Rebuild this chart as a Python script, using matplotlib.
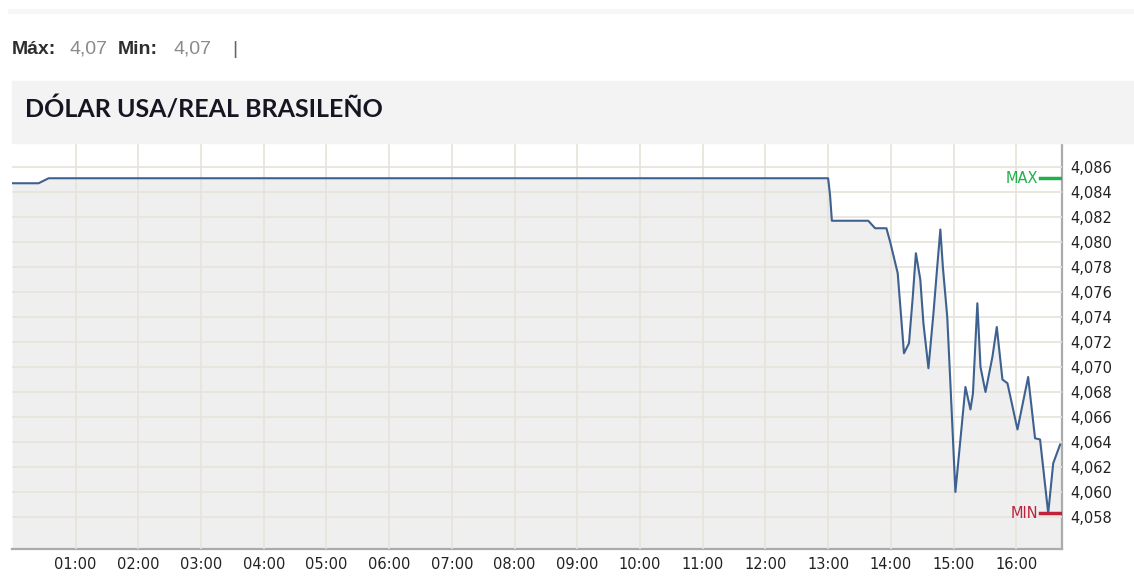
import matplotlib.pyplot as plt
from matplotlib.patches import Rectangle
from matplotlib.ticker import FuncFormatter

# hora del día (decimal) y cotización
horas = [0.0, 0.41, 0.57, 13.0, 13.03, 13.06, 13.64, 13.75, 13.93, 13.99,
         14.11, 14.16, 14.21, 14.29, 14.35, 14.40, 14.47, 14.52, 14.60, 14.68,
         14.74, 14.79, 14.83, 14.90, 14.95, 15.03, 15.11, 15.19, 15.27, 15.31,
         15.38, 15.43, 15.51, 15.62, 15.69, 15.78, 15.86, 16.02, 16.19, 16.30,
         16.38, 16.51, 16.59, 16.70]
valores = [4.0847, 4.0847, 4.0851, 4.0851, 4.0838, 4.0817, 4.0817, 4.0811, 4.0811, 4.0800,
           4.0775, 4.0743, 4.0711, 4.0719, 4.0756, 4.0791, 4.0770, 4.0735, 4.0699, 4.0743,
           4.0780, 4.0810, 4.0780, 4.0740, 4.0687, 4.0600, 4.0642, 4.0684, 4.0666, 4.0679,
           4.0751, 4.0700, 4.0680, 4.0708, 4.0732, 4.0690, 4.0687, 4.0650, 4.0692, 4.0643,
           4.0642, 4.0583, 4.0623, 4.0638]

xticks = list(range(1, 17))
xlabels = [f"{h:02d}:00" for h in xticks]
yticks = [4.058 + 0.002 * i for i in range(15)]

titulo = "DÓLAR USA/REAL BRASILEÑO"

W, H = 1134, 577
fig = plt.figure(figsize=(W / 100, H / 100), dpi=100)

# banda superior tenue y banda del título
fig.patches.append(Rectangle((8 / W, 1 - 13 / H), 1, 4 / H, transform=fig.transFigure,
                             color="#f7f7f7", zorder=0))
fig.patches.append(Rectangle((12 / W, 1 - 143 / H), 1, 62 / H, transform=fig.transFigure,
                             color="#f3f3f3", zorder=0))
fig.text(25 / W, 1 - 110 / H, titulo, fontsize=18, fontweight="bold", family="Lato",
         color="#161622", va="center")

# cabecera Máx / Min
y_cab = 1 - 49 / H
fig.text(12 / W, y_cab, "Máx:", fontsize=14, fontweight="bold", family="Liberation Sans",
         color="#2e2e2e", va="center")
fig.text(69 / W, y_cab, "4,07", fontsize=14, family="Liberation Sans", color="#8a8a8a", va="center")
fig.text(118 / W, y_cab, "Min:", fontsize=14, fontweight="bold", family="Liberation Sans",
         color="#2e2e2e", va="center")
fig.text(173 / W, y_cab, "4,07", fontsize=14, family="Liberation Sans", color="#8a8a8a", va="center")
fig.text(232 / W, y_cab, "|", fontsize=14, family="Liberation Sans", color="#666666", va="center")

ax = fig.add_axes([12 / W, 1 - 549 / H, (1062 - 12) / W, (549 - 143) / H])
ymin, ymax = 4.05544, 4.08792
ax.set_xlim(-0.014, 16.73)
ax.set_ylim(ymin, ymax)

ax.fill_between(horas, valores, ymin, color="#efefef", zorder=1)
ax.plot(horas, valores, color="#3e6190", lw=1.5, zorder=3)

ax.set_xticks(xticks)
ax.set_xticklabels(xlabels)
ax.set_yticks(yticks)
ax.yaxis.set_major_formatter(FuncFormatter(lambda v, p: f"{v:.3f}".replace(".", ",")))
ax.yaxis.tick_right()
ax.tick_params(length=0, labelsize=10.5, labelcolor="#222222", pad=6)
ax.grid(True, color="#e6e3db", lw=1.2, zorder=2)
ax.set_axisbelow(False)
for s in ("left", "top"):
    ax.spines[s].set_visible(False)
for s in ("bottom", "right"):
    ax.spines[s].set_color("#ababab")
    ax.spines[s].set_linewidth(1.6)

# marcadores MAX / MIN
tr = ax.get_yaxis_transform()
vmax, vmin = max(valores), min(valores)
ax.plot([0.979, 1.0], [vmax, vmax], color="#1fb04a", lw=2.5, transform=tr, zorder=4)
ax.text(0.977, vmax, "MAX", color="#1fb04a", fontsize=10.5, ha="right", va="center",
        transform=tr, zorder=4)
ax.plot([0.979, 1.0], [vmin, vmin], color="#c0203a", lw=2.5, transform=tr, zorder=4)
ax.text(0.977, vmin, "MIN", color="#c0203a", fontsize=10.5, ha="right", va="center",
        transform=tr, zorder=4)

fig.savefig("out.png", dpi=100)
